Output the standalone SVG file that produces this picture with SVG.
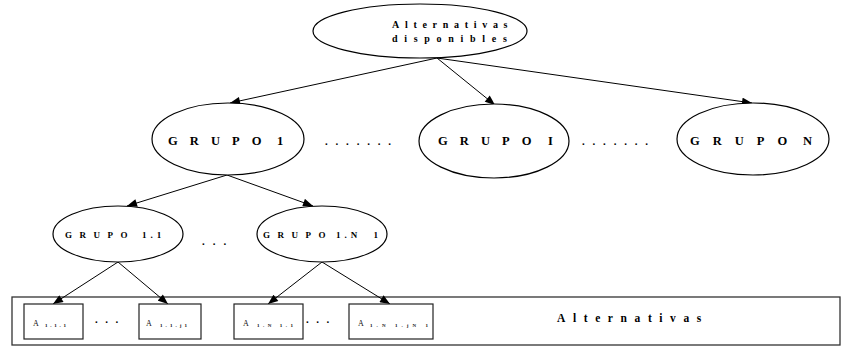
<svg xmlns="http://www.w3.org/2000/svg" width="841" height="347" viewBox="0 0 841 347">
<defs>
<marker id="ah" viewBox="0 0 10 8" refX="10" refY="4" markerWidth="11" markerHeight="8" markerUnits="userSpaceOnUse" orient="auto">
<path d="M0,0 L10,4 L0,8 z" fill="#000"/>
</marker>
</defs>
<style>
.n{fill:#fff;stroke:#000;stroke-width:1.2}
.b{fill:#fff;stroke:#222;stroke-width:1.2}
.t{font-family:"Liberation Serif",serif;font-weight:bold;fill:#000}
.l1{font-size:12.5px}
.l0{font-size:10px}
.l2{font-size:9px}
.lb{font-size:11.5px}
.d{font-size:11px}
.a{font-family:"Liberation Serif",serif;fill:#111;font-size:8px}
.s{font-family:"Liberation Serif",serif;font-weight:bold;fill:#111;font-size:5px}
.c line{stroke:#000;stroke-width:1;marker-end:url(#ah)}
</style>
<rect width="841" height="347" fill="#fff"/>
<g id="container">
<rect x="12" y="297" width="828" height="48" fill="#fff" stroke="#333" stroke-width="1.3"/>
<text class="t lb" x="557" y="322" letter-spacing="7.6">Alternativas</text>
</g>
<g class="c" id="connectors">
<line x1="437" y1="58" x2="230" y2="103"/>
<line x1="437" y1="58" x2="495" y2="105"/>
<line x1="437" y1="58" x2="752" y2="103"/>
<line x1="227" y1="175" x2="127" y2="206"/>
<line x1="227" y1="175" x2="313" y2="206"/>
<line x1="118" y1="262" x2="53" y2="304"/>
<line x1="118" y1="262" x2="168" y2="304"/>
<line x1="322" y1="262" x2="268" y2="304"/>
<line x1="322" y1="262" x2="390" y2="304"/>
</g>
<g id="root">
<ellipse class="n" cx="420" cy="31" rx="107" ry="27"/>
<text class="t l0" x="392" y="28" letter-spacing="5.7">Alternativas</text>
<text class="t l0" x="392" y="42" letter-spacing="6.7">disponibles</text>
</g>
<g id="grupo1">
<ellipse class="n" cx="228" cy="139" rx="76" ry="36"/>
<text class="t l1" y="144.5"><tspan x="168" letter-spacing="12.1">GRUPO</tspan> <tspan x="277">1</tspan></text>
</g>
<g id="dots1"><text class="t d" x="325" y="145" letter-spacing="7.8">.......</text></g>
<g id="grupoI">
<ellipse class="n" cx="494" cy="141" rx="75" ry="37"/>
<text class="t l1" y="144.5"><tspan x="438" letter-spacing="12.1">GRUPO</tspan> <tspan x="548">I</tspan></text>
</g>
<g id="dots2"><text class="t d" x="582" y="145" letter-spacing="7.8">.......</text></g>
<g id="grupoN">
<ellipse class="n" cx="753" cy="139" rx="76" ry="36"/>
<text class="t l1" y="144.5"><tspan x="690" letter-spacing="13">GRUPO</tspan> <tspan x="803">N</tspan></text>
</g>
<g id="grupo11">
<ellipse class="n" cx="118" cy="234" rx="65" ry="28"/>
<text class="t l2" y="238"><tspan x="65" letter-spacing="7.5">GRUPO</tspan> <tspan x="142" letter-spacing="4">1.1</tspan></text>
</g>
<g id="dots3"><text class="t d" x="202" y="245" letter-spacing="8">...</text></g>
<g id="grupo1N1">
<ellipse class="n" cx="322" cy="234" rx="65" ry="28"/>
<text class="t l2" y="238"><tspan x="263" letter-spacing="7.5">GRUPO</tspan> <tspan x="336" letter-spacing="4" word-spacing="6">1.N 1</tspan></text>
</g>
<g id="alt111">
<rect class="b" x="24" y="304" width="59" height="35"/>
<text x="33" y="326"><tspan class="a">A</tspan><tspan class="s" x="45" y="327" textLength="21" lengthAdjust="spacing">1.1.1</tspan></text>
</g>
<g id="dots4"><text class="t d" x="95" y="323" letter-spacing="7.5">...</text></g>
<g id="alt11j1">
<rect class="b" x="139" y="304" width="62" height="35"/>
<text x="146" y="326"><tspan class="a">A</tspan><tspan class="s" x="160" y="327" textLength="27" lengthAdjust="spacing">1.1.j1</tspan></text>
</g>
<g id="alt1N11">
<rect class="b" x="234" y="304" width="69" height="35"/>
<text x="243" y="326"><tspan class="a">A</tspan><tspan class="s" x="257" y="327" textLength="36" lengthAdjust="spacing">1.N 1.1</tspan></text>
</g>
<g id="dots5"><text class="t d" x="306" y="323" letter-spacing="7.5">...</text></g>
<g id="alt1N1jN1">
<rect class="b" x="349" y="304" width="84" height="35"/>
<text x="358" y="326"><tspan class="a">A</tspan><tspan class="s" x="370" y="327" textLength="58" lengthAdjust="spacing">1.N 1.jN 1</tspan></text>
</g>
</svg>
